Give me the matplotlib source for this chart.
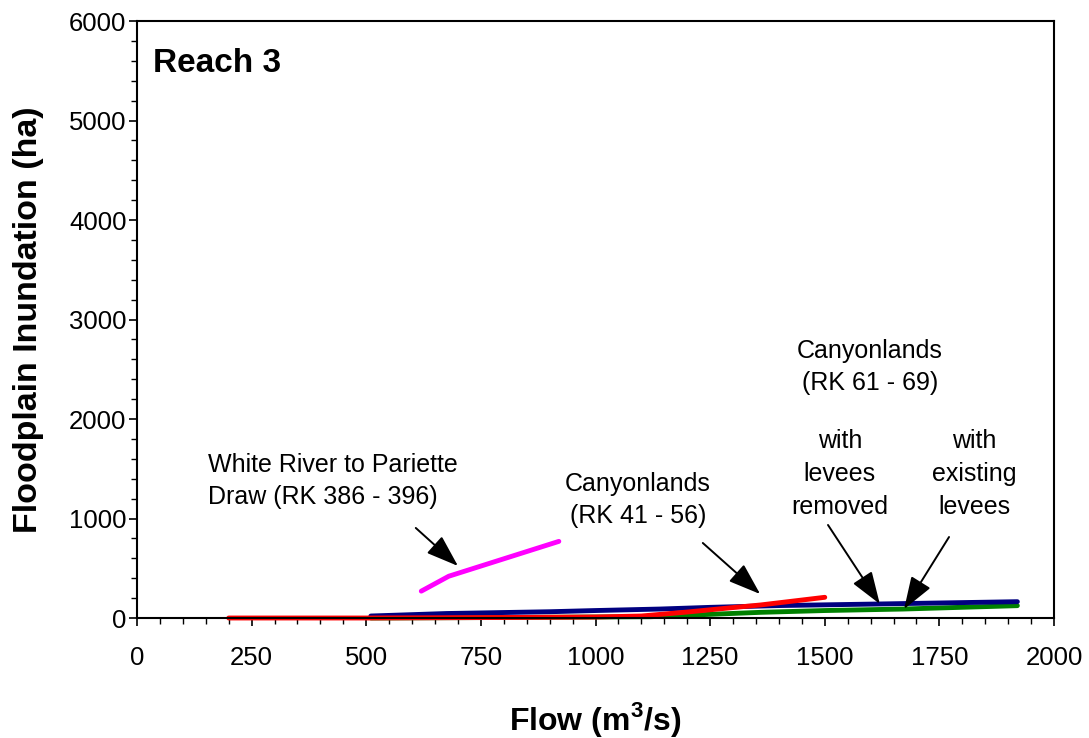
import matplotlib
matplotlib.use("Agg")
import matplotlib.pyplot as plt
from matplotlib.ticker import MultipleLocator

plt.rcParams["font.family"] = ["Liberation Sans", "DejaVu Sans"]
plt.rcParams["mathtext.fontset"] = "custom"
plt.rcParams["mathtext.bf"] = "Liberation Sans:bold"
plt.rcParams["mathtext.rm"] = "Liberation Sans:bold"

# ------------------------------------------------------------
# DATA
# ------------------------------------------------------------
white_flow = [620, 680, 920]
white_area = [270, 420, 770]

cany41_flow = [200, 500, 800, 1000, 1100, 1200, 1300, 1360, 1500]
cany41_area = [0, 0, 5, 10, 20, 60, 105, 131, 208]

levees_removed_flow = [510, 675, 800, 900, 1000, 1140, 1250, 1400, 1620, 1920]
levees_removed_area = [20, 45, 55, 63, 75, 90, 107, 125, 141, 164]

levees_existing_flow = [510, 800, 1000, 1120, 1360, 1500, 1670, 1920]
levees_existing_area = [0, 5, 10, 13, 57, 75, 90, 124]

x_ticks = [0, 250, 500, 750, 1000, 1250, 1500, 1750, 2000]
y_ticks = [0, 1000, 2000, 3000, 4000, 5000, 6000]

# ------------------------------------------------------------
# PLOT
# ------------------------------------------------------------
fig = plt.figure(figsize=(10.89, 7.38), dpi=100)
ax = fig.add_axes([0.1258, 0.1626, 0.9679 - 0.1258, 0.9715 - 0.1626])

kw = dict(lw=3.5, solid_capstyle="round", clip_on=False)
ax.plot(levees_existing_flow, levees_existing_area, color="#008000", **kw)
ax.plot(levees_removed_flow, levees_removed_area, color="#000080", **kw)
ax.plot(cany41_flow, cany41_area, color="#FF0000", **kw)
ax.plot(white_flow, white_area, color="#FF00FF", **kw)

ax.set_xlim(0, 2000)
ax.set_ylim(0, 6000)
ax.set_xticks(x_ticks)
ax.set_yticks(y_ticks)
ax.xaxis.set_minor_locator(MultipleLocator(50))
ax.yaxis.set_minor_locator(MultipleLocator(200))
ax.tick_params(which="major", direction="out", length=6, width=1.2, labelsize=18.5)
ax.tick_params(which="minor", direction="out", length=4.5, width=1.0)
ax.tick_params(axis="x", which="major", pad=14)
ax.tick_params(axis="y", which="major", pad=1.5)
for s in ax.spines.values():
    s.set_linewidth(1.5)

ax.set_xlabel("Flow (m$^{\\mathbf{3}}$/s)", fontsize=23, fontweight="bold", va="baseline")
ax.xaxis.set_label_coords(0.5, -0.1876)
ax.set_ylabel("Floodplain Inundation (ha)", fontsize=24.5, fontweight="bold", va="baseline")
ax.yaxis.set_label_coords(-0.109, 0.5)

ax.text(35, 5487, "Reach 3", fontsize=24, fontweight="bold", ha="left", va="baseline")

arrow = dict(arrowstyle="-|>,head_length=2.0,head_width=0.7", color="black", lw=1.4,
             shrinkA=0, shrinkB=0)
ax.annotate("", xy=(700, 523), xytext=(608, 905), arrowprops=arrow)
ax.annotate("", xy=(1359, 241), xytext=(1234, 754), arrowprops=arrow)
ax.annotate("", xy=(1620, 141), xytext=(1507, 935), arrowprops=arrow)
ax.annotate("", xy=(1673, 90), xytext=(1771, 814), arrowprops=arrow)

tf = dict(fontsize=18, linespacing=1.45, va="center")
ax.text(155, 1377, "White River to Pariette\nDraw (RK 386 - 396)", ha="left", **tf)
ax.text(1093, 1186, "Canyonlands\n(RK 41 - 56)", ha="center", **tf)
ax.text(1533, 1447, "with\nlevees\nremoved", ha="center", **tf)
ax.text(1826, 1447, "with\nexisting\nlevees", ha="center", **tf)
ax.text(1599, 2523, "Canyonlands\n(RK 61 - 69)", ha="center", **tf)

fig.savefig("out.png", dpi=100)
